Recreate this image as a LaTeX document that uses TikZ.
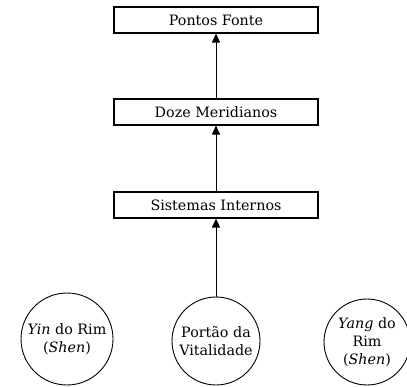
\documentclass[tikz,border=0pt]{standalone}
\usepackage{fontspec}
\setmainfont{DejaVu Serif}
\usetikzlibrary{arrows.meta}
\begin{document}
\begin{tikzpicture}[x=1pt,y=-1pt,
    font=\fontsize{14.3}{18}\selectfont,
    caixa/.style={draw,line width=1.1pt,minimum width=204pt,minimum height=26pt,inner sep=0pt},
    roda/.style={draw,circle,line width=0.9pt,inner sep=0pt,align=center},
    seta/.style={-{Triangle[length=9pt,width=8pt]},line width=1pt}]
  \useasboundingbox (0,0) rectangle (407,387);
  \clip (0,0) rectangle (407,387);
  \node[caixa] (fonte) at (216,20) {Pontos Fonte};
  \node[caixa] (doze) at (216,112) {Doze Meridianos};
  \node[caixa] (sistemas) at (216,205) {Sistemas Internos};
  \node[roda,minimum size=92pt] (yin) at (67,339) {\textit{Yin} do Rim\\(\textit{Shen})};
  \node[roda,minimum size=88pt] (portao) at (216,341) {Portão da\\Vitalidade};
  \node[roda,minimum size=86pt] (yang) at (367,342) {\textit{Yang} do\\Rim\\(\textit{Shen})};
  \draw[seta] (doze) -- (fonte);
  \draw[seta] (sistemas) -- (doze);
  \draw[seta] (portao) -- (sistemas);
\end{tikzpicture}
\end{document}
